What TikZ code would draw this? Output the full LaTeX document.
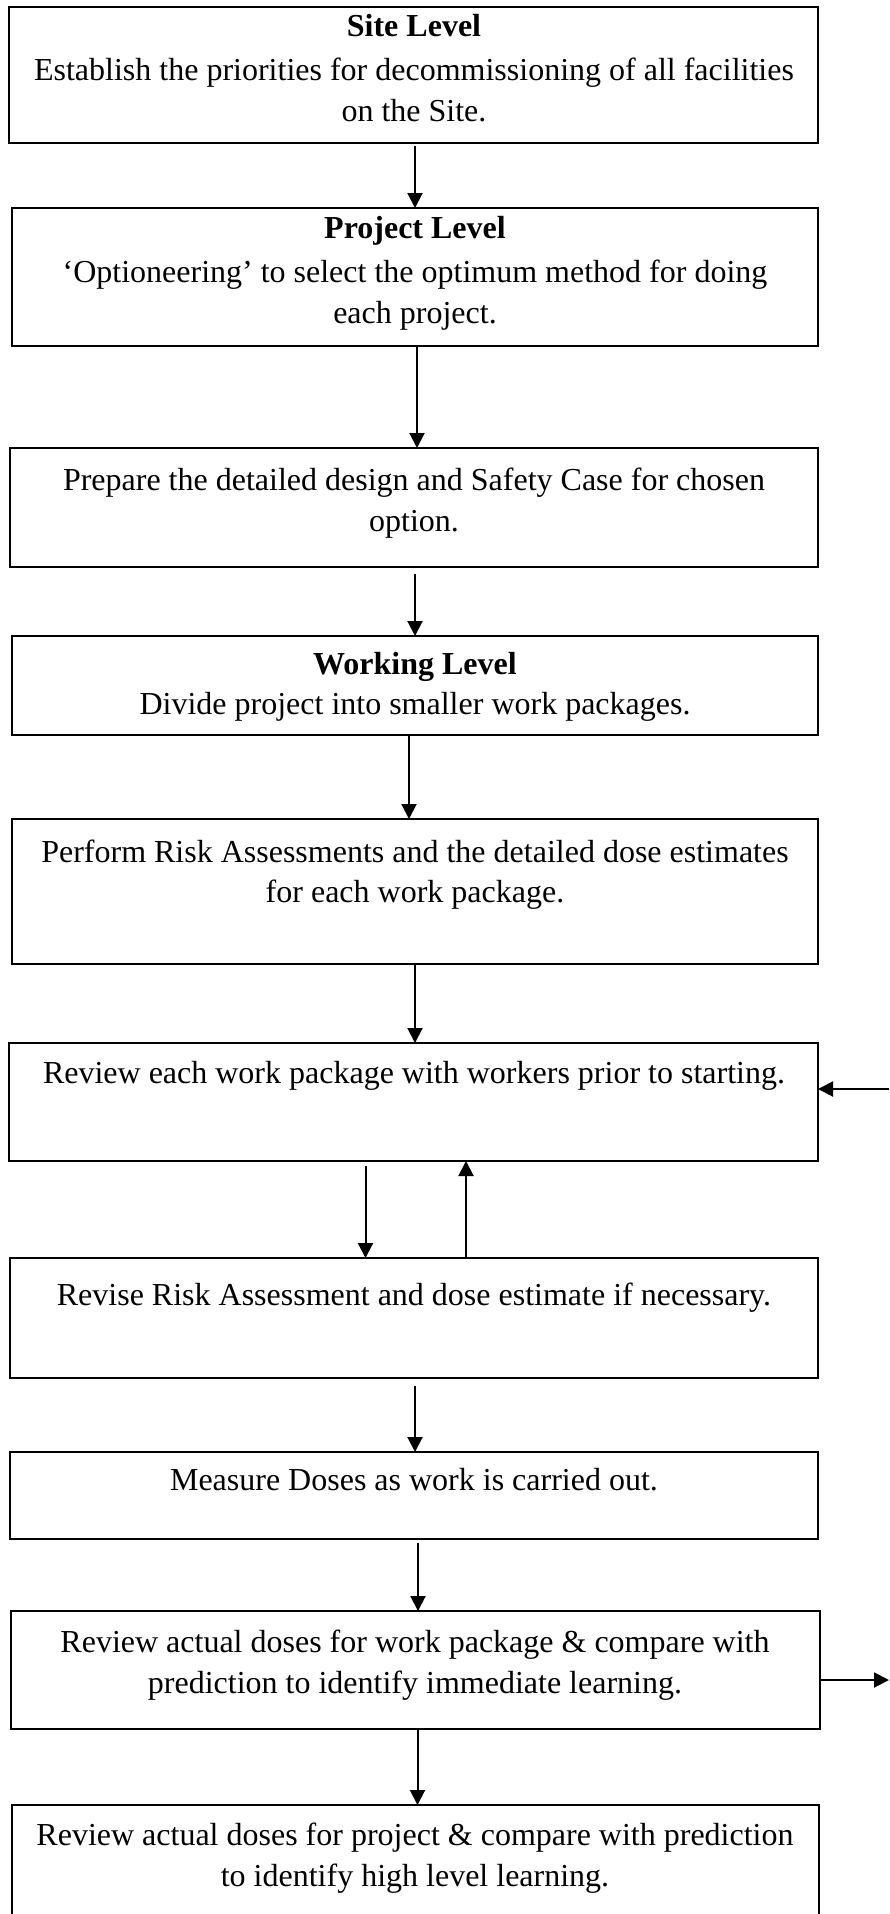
\documentclass[tikz,border=0pt]{standalone}
\usepackage{fontspec}
\setmainfont{Liberation Serif}
\usetikzlibrary{arrows.meta}
\begin{document}
\begin{tikzpicture}[x=1pt,y=-1pt,
  boxst/.style={draw=black, line width=2pt, anchor=north west, inner sep=0pt, outer sep=0pt},
  txt/.style={anchor=north, inner sep=0pt, align=center, font=\fontsize{32}{41}\selectfont},
  arr/.style={line width=2pt, -{Triangle[length=15pt,width=15pt]}}]
\useasboundingbox (0,0) rectangle (889,1914);
\clip (0,0) rectangle (889,1914);
\fill[white] (0,0) rectangle (889,1914);
% boxes
\node[boxst, minimum width=809pt, minimum height=136pt] (b1) at (9,7) {};
\node[boxst, minimum width=806pt, minimum height=138pt] (b2) at (12,208) {};
\node[boxst, minimum width=808pt, minimum height=119pt] (b3) at (10,448) {};
\node[boxst, minimum width=806pt, minimum height=99pt] (b4) at (12,636) {};
\node[boxst, minimum width=806pt, minimum height=145pt] (b5) at (12,819) {};
\node[boxst, minimum width=809pt, minimum height=118pt] (b6) at (9,1043) {};
\node[boxst, minimum width=808pt, minimum height=120pt] (b7) at (10,1258) {};
\node[boxst, minimum width=808pt, minimum height=87pt] (b8) at (10,1452) {};
\node[boxst, minimum width=809pt, minimum height=118pt] (b9) at (11,1611) {};
\node[boxst, minimum width=807pt, minimum height=160pt] (b10) at (12,1805) {};
% texts
\node[txt] (t1) at (414,14) {{\bfseries Site Level}\\[3pt]Establish the priorities for decommissioning of all facilities\\on the Site.};
\node[txt] (t2) at (415,216) {{\bfseries Project Level}\\[3pt]‘Optioneering’ to select the optimum method for doing\\each project.};
\node[txt] (t3) at (414,468) {Prepare the detailed design and Safety Case for chosen\\option.};
\node[txt] (t4) at (415,652) {{\bfseries Working Level}\\[-1pt]Divide project into smaller work packages.};
\node[txt] (t5) at (415,840) {Perform Risk Assessments and the detailed dose estimates\\[-1pt]for each work package.};
\node[txt] (t6) at (414,1061) {Review each work package with workers prior to starting.};
\node[txt] (t7) at (414,1283) {Revise Risk Assessment and dose estimate if necessary.};
\node[txt] (t8) at (414,1468) {Measure Doses as work is carried out.};
\node[txt] (t9) at (415,1630) {Review actual doses for work package \& compare with\\prediction to identify immediate learning.};
\node[txt] (t10) at (415,1823) {Review actual doses for project \& compare with prediction\\to identify high level learning.};
% side coordinates
\coordinate (r6) at (889,1089);
\coordinate (r9) at (889,1680);
% connectors
\draw[arr] ([xshift=1.5pt,yshift=-3pt]b1.south) -- ([xshift=1.5pt]b1.south |- b2.north);
\draw[arr] ([xshift=2pt]b2.south) -- ([xshift=2pt]b2.south |- b3.north);
\draw[arr] ([xshift=1pt,yshift=-7pt]b3.south) -- ([xshift=1pt]b3.south |- b4.north);
\draw[arr] ([xshift=-6pt]b4.south) -- ([xshift=-6pt]b4.south |- b5.north);
\draw[arr] ([xshift=0pt]b5.south) -- ([xshift=0pt]b5.south |- b6.north);
\draw[arr] ([xshift=-48pt,yshift=-5pt]b6.south) -- ([xshift=-48pt]b6.south |- b7.north);
\draw[arr] ([xshift=52pt]b7.north) -- ([xshift=52pt]b7.north |- b6.south);
\draw[arr] ([xshift=1pt,yshift=-8pt]b7.south) -- ([xshift=1pt]b7.south |- b8.north);
\draw[arr] ([xshift=4pt,yshift=-4pt]b8.south) -- ([xshift=4pt]b8.south |- b9.north);
\draw[arr] ([xshift=2pt]b9.south) -- ([xshift=2pt]b9.south |- b10.north);
\draw[arr] (r6) -- (b6.east |- r6);
\draw[arr] (b9.east |- r9) -- (r9);
\end{tikzpicture}
\end{document}
